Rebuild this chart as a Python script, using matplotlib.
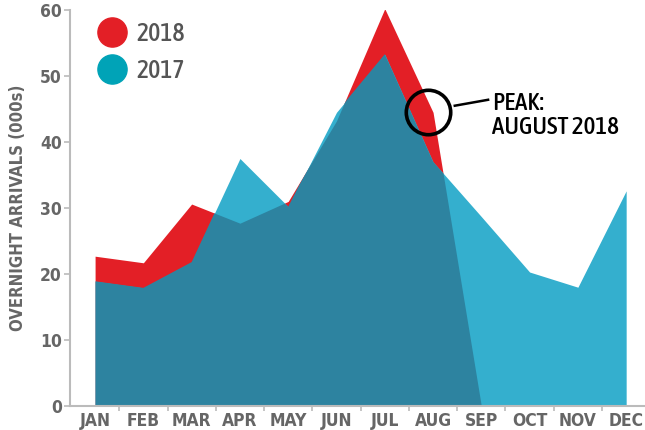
import numpy as np
import matplotlib
matplotlib.use("Agg")
import matplotlib.pyplot as plt
from matplotlib.lines import Line2D
from matplotlib import font_manager

# data (thousands of overnight arrivals)
months = ["JAN", "FEB", "MAR", "APR", "MAY", "JUN", "JUL", "AUG", "SEP", "OCT", "NOV", "DEC"]
arrivals_2017 = [18.9, 17.9, 21.8, 37.5, 30.2, 44.5, 53.3, 37.0, 28.7, 20.3, 18.0, 32.6]
arrivals_2018 = [22.7, 21.7, 30.6, 27.7, 31.0, 43.2, 60.2, 44.5, 0.0]
yticks = [0, 10, 20, 30, 40, 50, 60]

RED = "#e31f26"
CYAN = "#34afce"
DARK = "#2d83a0"
LEG_CYAN = "#00a3b7"
GREY = "#666666"


# look for a condensed face, the original uses a narrow grotesque
def find_font(target):
    best = None
    for f in font_manager.fontManager.ttflist:
        narrow = ("Condensed" in f.name or "Narrow" in f.name
                  or "condensed" in str(f.stretch) or "Condensed" in f.fname or "Narrow" in f.fname)
        if not narrow or f.style != "normal":
            continue
        w = f.weight if isinstance(f.weight, int) else (700 if "bold" in str(f.weight) else 400)
        score = abs(w - target)
        if best is None or score < best[0]:
            best = (score, f.fname)
    return best[1] if best else None


fb = find_font(700)
fr = find_font(500)
if fb:
    fp_bold = font_manager.FontProperties(fname=fb)
    fp_reg = font_manager.FontProperties(fname=fr)
else:
    fp_bold = font_manager.FontProperties(family="Roboto", weight="bold")
    fp_reg = font_manager.FontProperties(family="Roboto", weight="medium")

fig = plt.figure(figsize=(6.45, 4.3), dpi=100)
ax = fig.add_axes([0.1085, 0.0558, 0.8915, 0.9209])

x17 = np.arange(len(arrivals_2017))
x18 = np.arange(len(arrivals_2018))

ax.fill_between(x18, arrivals_2018, color=RED, lw=0)
p17 = ax.fill_between(x17, arrivals_2017, color=CYAN, lw=0)
overlap = ax.fill_between(x18, arrivals_2018, color=DARK, lw=0)
overlap.set_clip_path(p17.get_paths()[0], ax.transData)

ax.set_xlim(-0.52, 11.39)
ax.set_ylim(0, 60)

ax.set_yticks(yticks)
ax.set_yticklabels([str(v) for v in yticks], fontproperties=fp_bold, fontsize=12.5, color=GREY)
ax.set_xticks(x17)
ax.set_xticklabels(months, fontproperties=fp_bold, fontsize=12.5, color=GREY)
ax.set_xticks(np.arange(0.5, 11, 1), minor=True)
ax.tick_params(axis="x", which="major", length=0, pad=4)
ax.tick_params(axis="x", which="minor", length=3.5, color="#bbbbbb", width=1.2)
ax.tick_params(axis="y", length=4, color="#bbbbbb", width=1.2, pad=2)

for s in ["top", "right"]:
    ax.spines[s].set_visible(False)
for s in ["left", "bottom"]:
    ax.spines[s].set_color("#bbbbbb")
    ax.spines[s].set_linewidth(1.5)

ax.set_ylabel("OVERNIGHT ARRIVALS (000s)", fontproperties=fp_bold, fontsize=12,
              color=GREY, labelpad=9)

handles = [Line2D([], [], ls="", marker="o", ms=21, color=RED),
           Line2D([], [], ls="", marker="o", ms=21, color=LEG_CYAN)]
leg_fp = fp_reg.copy()
leg_fp.set_size(18.5)
leg = ax.legend(handles, ["2018", "2017"], loc="upper left", bbox_to_anchor=(0.02, 1.01),
                frameon=False, prop=leg_fp, handletextpad=0.35, labelspacing=0.45,
                handlelength=1.2, borderaxespad=0.2)
for t in leg.get_texts():
    t.set_color("#555555")

# peak callout
ax.plot([6.89], [44.6], marker="o", ms=32, mfc="none", mec="black", mew=2.6)
ax.plot([7.45, 8.14], [45.5, 46.4], color="black", lw=1.8)
ax.text(8.22, 44.0, "PEAK:\nAUGUST 2018", fontproperties=fp_reg, fontsize=18, color="black",
        va="center", ha="left", linespacing=1.05)

fig.savefig("out.png", dpi=100)
